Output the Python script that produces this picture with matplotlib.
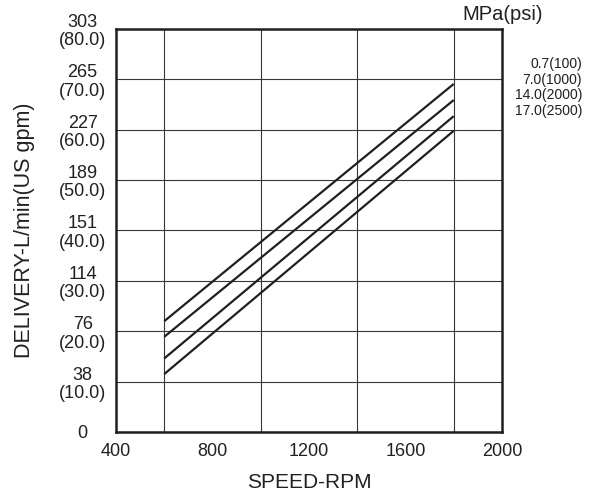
import matplotlib
matplotlib.use("Agg")
import matplotlib.pyplot as plt

plt.rcParams["font.family"] = ["Liberation Sans", "DejaVu Sans"]

INK = "#231f20"

# Pump delivery vs. shaft speed at several outlet pressures
speed_rpm = [600, 1800]
pressure_labels = ["0.7(100)", "7.0(1000)", "14.0(2000)", "17.0(2500)"]
delivery_gpm = [
    [22.0, 69.1],   # 0.7 MPa (100 psi)
    [18.9, 65.9],   # 7.0 MPa (1000 psi)
    [14.6, 62.7],   # 14.0 MPa (2000 psi)
    [11.5, 59.8],   # 17.0 MPa (2500 psi)
]

x_ticks = [400, 800, 1200, 1600, 2000]
x_grid = [400, 600, 800, 1000, 1200, 1400, 1600, 1800, 2000]
y_ticks_gpm = [0, 10, 20, 30, 40, 50, 60, 70, 80]
y_tick_lmin = ["0", "38", "76", "114", "151", "189", "227", "265", "303"]

fig = plt.figure(figsize=(5.92, 4.97), dpi=100)
ax = fig.add_axes([116 / 592, 1 - 432 / 497, 386 / 592, 403 / 497])

ax.set_xlim(400, 2000)
ax.set_ylim(0, 80)

# grid
ax.set_xticks(x_grid, minor=True)
ax.set_yticks(y_ticks_gpm)
ax.grid(True, which="minor", axis="x", color="#3a3536", linewidth=0.8)
ax.grid(True, which="major", axis="y", color="#3a3536", linewidth=0.8)
ax.set_axisbelow(True)

for pl, d in zip(pressure_labels, delivery_gpm):
    ax.plot(speed_rpm, d, color=INK, linewidth=1.6, solid_capstyle="butt", label=pl)

ax.set_xticks(x_ticks)
ax.set_xticklabels([str(v) for v in x_ticks])
y_labels = [lm if g == 0 else f"{lm}\n({g:.1f})" for lm, g in zip(y_tick_lmin, y_ticks_gpm)]
ax.set_yticklabels(y_labels, linespacing=1.1)
for t in ax.get_yticklabels():
    t.set_horizontalalignment("center")
    t.set_multialignment("center")

ax.tick_params(axis="both", which="both", length=0, labelsize=13, colors=INK)
ax.tick_params(axis="y", pad=24)
ax.tick_params(axis="x", pad=8)

for s in ax.spines.values():
    s.set_linewidth(1.8)
    s.set_color(INK)

ax.set_xlabel("SPEED-RPM", fontsize=15, color=INK, va="center")
ax.xaxis.set_label_coords(0.5, -(483 - 432) / 403)
ax.set_ylabel("DELIVERY-L/min(US gpm)", fontsize=15.5, color=INK, va="center")
ax.yaxis.set_label_coords(-(116 - 24) / 386, 0.5)

fig.text(502.5 / 592, 1 - 15 / 497, "MPa(psi)", fontsize=14.5, color=INK,
         ha="center", va="center")
fig.text(582 / 592, 1 - 87.5 / 497, "\n".join(pressure_labels), fontsize=10,
         color=INK, ha="right", va="center", multialignment="right", linespacing=1.17)

fig.savefig("out.png", dpi=100)
